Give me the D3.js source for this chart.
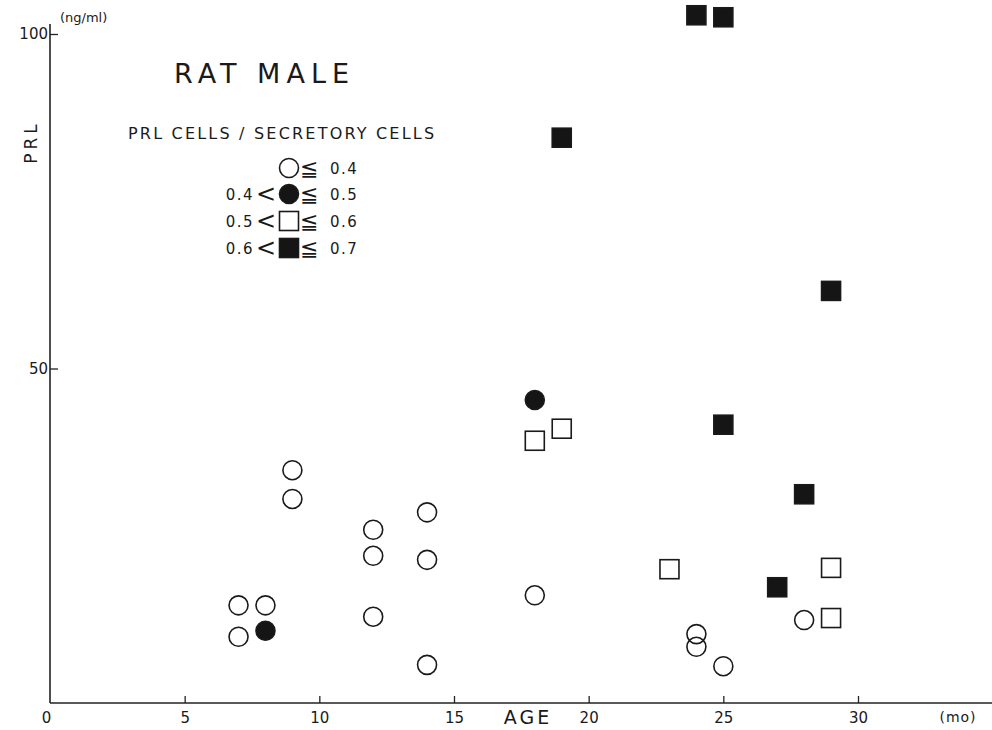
<html>
<head>
<script src="https://cdn.jsdelivr.net/npm/d3@7"></script>
<style>
  body { margin: 0; background: #fff; }
  text { font-family: 'DejaVu Sans', sans-serif; fill: #1a1a1a; }
</style>
</head>
<body>
<div id="chart"></div>
<script>
// age (months), PRL (ng/ml), ratio class
const ages = [7, 7, 8, 8, 9, 9, 12, 12, 12, 14, 14, 14, 18, 18, 18, 19, 19, 24, 25, 23, 24, 24, 25, 25, 27, 28, 29, 28, 29, 29]
const prl = [14.6, 9.9, 14.6, 10.8, 34.8, 30.5, 25.9, 22.0, 12.9, 28.5, 21.4, 5.7, 16.1, 45.3, 39.2, 41.0, 84.5, 102.8, 102.5, 20.0, 10.3, 8.4, 5.5, 41.6, 17.3, 31.2, 61.6, 12.4, 20.2, 12.7]
const classes = [0, 0, 0, 1, 0, 0, 0, 0, 0, 0, 0, 0, 0, 1, 2, 2, 3, 3, 3, 2, 0, 0, 0, 3, 3, 3, 3, 0, 2, 2]

const xTicks = [0, 5, 10, 15, 20, 25, 30]
const yTicks = [50, 100]
const legendLeft = ['', '0.4', '0.5', '0.6']
const legendRight = ['0.4', '0.5', '0.6', '0.7']

const W = 992, H = 730
const svg = d3.select('#chart').append('svg').attr('width', W).attr('height', H)

const x = d3.scaleLinear().domain([0, 30]).range([50, 858])
const y = d3.scaleLinear().domain([0, 100]).range([703, 34])

// axis lines
svg.append('line').attr('x1', x(0)).attr('x2', x(35.2)).attr('y1', y(0)).attr('y2', y(0))
  .attr('stroke', '#222').attr('stroke-width', 1.6)
svg.append('line').attr('x1', x(0)).attr('x2', x(0)).attr('y1', y(0)).attr('y2', y(101.5))
  .attr('stroke', '#222').attr('stroke-width', 1.6)

const xAxis = svg.append('g').attr('transform', `translate(0,${y(0)})`)
  .call(d3.axisBottom(x).tickValues(xTicks).tickSizeInner(-7).tickSizeOuter(0).tickPadding(9))
xAxis.select('.domain').remove()
xAxis.selectAll('line').attr('stroke', '#222').attr('stroke-width', 1.3)
xAxis.selectAll('text').style('font-size', '15px').attr('fill', '#1a1a1a')
xAxis.selectAll('.tick').filter(d => d === 0).select('line').remove()
xAxis.selectAll('.tick').filter(d => d === 0).select('text').attr('dx', -4)

const yAxis = svg.append('g').attr('transform', `translate(${x(0)},0)`)
  .call(d3.axisLeft(y).tickValues(yTicks).tickSizeInner(-8).tickSizeOuter(0).tickPadding(2))
yAxis.select('.domain').remove()
yAxis.selectAll('line').attr('stroke', '#222').attr('stroke-width', 1.3)
yAxis.selectAll('text').style('font-size', '15px').attr('fill', '#1a1a1a')

// axis titles
svg.append('text').attr('x', 60).attr('y', 22).style('font-size', '13px').text('(ng/ml)')
svg.append('text').attr('transform', 'translate(37,142) rotate(-90)').attr('text-anchor', 'middle')
  .style('font-size', '17px').style('letter-spacing', '4px').text('PRL')
svg.append('text').attr('x', 528).attr('y', 724).attr('text-anchor', 'middle')
  .style('font-size', '19px').style('letter-spacing', '3px').text('AGE')
svg.append('text').attr('x', 958).attr('y', 722).attr('text-anchor', 'middle')
  .style('font-size', '14px').style('letter-spacing', '1px').text('(mo)')

svg.append('text').attr('x', 174).attr('y', 83).style('font-size', '27px')
  .style('letter-spacing', '6px').text('RAT MALE')
svg.append('text').attr('x', 128).attr('y', 139).style('font-size', '16px')
  .style('letter-spacing', '2.2px').text('PRL CELLS / SECRETORY CELLS')

// marks
function drawSymbol(g, cls, cx, cy) {
  if (cls < 2) {
    g.append('circle').attr('cx', cx).attr('cy', cy).attr('r', 9.5)
      .attr('fill', cls === 1 ? '#151515' : 'none').attr('stroke', '#1a1a1a').attr('stroke-width', 1.6)
  } else {
    g.append('rect').attr('x', cx - 9.5).attr('y', cy - 9.5).attr('width', 19).attr('height', 19)
      .attr('fill', cls === 3 ? '#151515' : 'none').attr('stroke', '#1a1a1a').attr('stroke-width', 1.6)
  }
}

const marks = svg.append('g')
ages.forEach((a, i) => drawSymbol(marks, classes[i], x(a), y(prl[i])))

// legend
const lg = svg.append('g')
const rowY = [168, 194, 221, 248]
legendRight.forEach((v, i) => {
  drawSymbol(lg, i, 289, rowY[i])
  lg.append('text').attr('x', 300).attr('y', rowY[i] + 8).style('font-size', '22px').text('\u2266')
  lg.append('text').attr('x', 330).attr('y', rowY[i] + 6).style('font-size', '15px')
    .style('letter-spacing', '1.5px').text(v)
  if (legendLeft[i]) {
    lg.append('text').attr('x', 276).attr('y', rowY[i] + 8).attr('text-anchor', 'end')
      .style('font-size', '24px').text('<')
    lg.append('text').attr('x', 254).attr('y', rowY[i] + 6).attr('text-anchor', 'end')
      .style('font-size', '15px').style('letter-spacing', '1.5px').text(legendLeft[i])
  }
})
</script>
</body>
</html>
